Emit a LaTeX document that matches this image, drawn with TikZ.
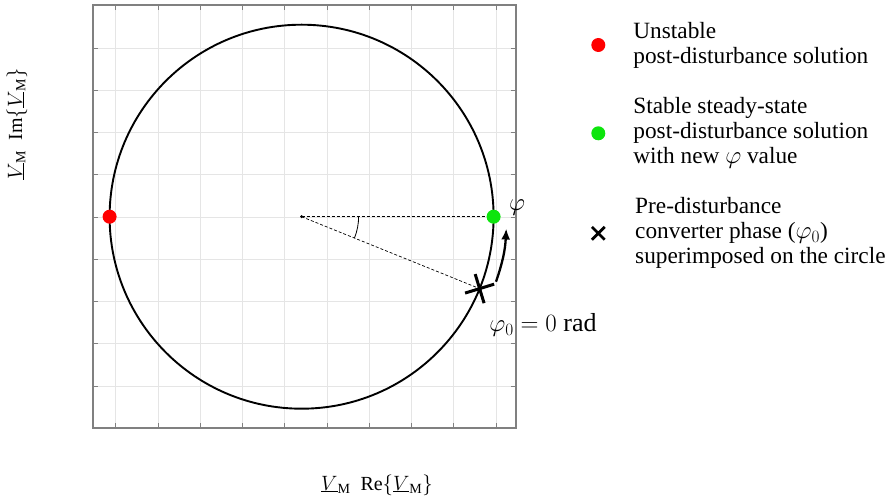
\documentclass[tikz,border=0pt]{standalone}
\usepackage{fontspec}
\setmainfont{Liberation Serif}
\usetikzlibrary{arrows.meta,calc,positioning,shapes.misc}
\definecolor{GridClr}{rgb}{0.9,0.9,0.9}
\definecolor{AxisClr}{rgb}{0.5,0.5,0.5}
\definecolor{UnstableClr}{rgb}{1,0,0}
\definecolor{StableClr}{rgb}{0.05,0.9,0.05}

\begin{document}
\begin{tikzpicture}[x=1pt,y=1pt,
  dot/.style={circle,fill,inner sep=0pt,minimum size=14pt},
  xmark/.style={cross out,draw,inner sep=0pt,line width=2.8pt},
  legtext/.style={anchor=west,align=left,inner sep=0pt,font=\fontsize{23.3}{25}\selectfont},
  dashline/.style={dash pattern=on 3pt off 2pt,line width=0.7pt}]
\useasboundingbox (0,0) rectangle (888,503);

\foreach \i in {0,...,9}{
  \draw[GridClr,line width=0.8pt] ({115.7+42.27*\i},75) -- ({115.7+42.27*\i},498);
  \draw[AxisClr,line width=0.9pt] ({115.7+42.27*\i},75) -- ++(0,5) ({115.7+42.27*\i},498) -- ++(0,-5);
}
\foreach \i in {0,...,8}{
  \draw[GridClr,line width=0.8pt] (93,{455-42.27*\i}) -- (516,{455-42.27*\i});
  \draw[AxisClr,line width=0.9pt] (93,{455-42.27*\i}) -- ++(5,0) (516,{455-42.27*\i}) -- ++(-5,0);
}
\draw[AxisClr,line width=1.5pt] (93,75) rectangle (516,498);

\coordinate (O) at (301.6,286.3);
\coordinate (Rpt) at ($(O)+(180:192)$);
\coordinate (Gpt) at ($(O)+(0:192)$);
\coordinate (phi0) at ($(O)+(-22:192)$);
\coordinate (arrS) at ($(O)+(-18.5:205)$);
\coordinate (arrE) at ($(O)+(-3.3:205)$);

\draw[line width=1.9pt] (O) circle[radius=192];
\draw[dashline] (O) -- (Gpt);
\draw[dashline] (O) -- (phi0);
\fill (O) circle[radius=1.6];
\draw[line width=0.8pt] ($(O)+(-22:57)$) arc[start angle=-22,end angle=0,radius=57];

\node[dot,fill=UnstableClr] (unstable) at (Rpt) {};
\node[dot,fill=StableClr] (stable) at (Gpt) {};
\node[xmark,line width=3pt,minimum size=18.5pt,rotate=-28] (cross) at (phi0) {};
\draw[-{Latex[length=11pt,width=9pt]},line width=2.3pt] (arrS) to[bend right=8] (arrE);

\node[font=\fontsize{26}{26}\selectfont] (philab) at (517,295) {$\varphi$};
\node[font=\fontsize{26}{26}\selectfont] (phi0lab) at (543,178) {$\varphi_0 = 0\ \mathrm{rad}$};

\node[rotate=90,font=\fontsize{20}{20}\selectfont] (ylab) at (17,379)
  {$\underline{V}_{\mathrm{M}}\ \ \mathrm{Im}\bigl\{\underline{V}_{\mathrm{M}}\bigr\}$};
\node[font=\fontsize{20}{20}\selectfont] (xlab) at (377,18)
  {$\underline{V}_{\mathrm{M}}\ \ \mathrm{Re}\bigl\{\underline{V}_{\mathrm{M}}\bigr\}$};

\node[dot,fill=UnstableClr] (legU) at (598.3,458) {};
\node[legtext,right=27.7pt of legU] (txtU) {Unstable\\post-disturbance solution};
\node[dot,fill=StableClr] (legS) at (598.3,369.7) {};
\node[legtext,right=27.7pt of legS] (txtS) {Stable steady-state\\post-disturbance solution\\with new $\varphi$ value};
\node[xmark,minimum size=10pt] (legX) at (598.3,269.7) {};
\node[legtext,right=30.3pt of legX] (txtX) {Pre-disturbance\\converter phase ($\varphi_0$)\\superimposed on the circle};
\end{tikzpicture}
\end{document}
